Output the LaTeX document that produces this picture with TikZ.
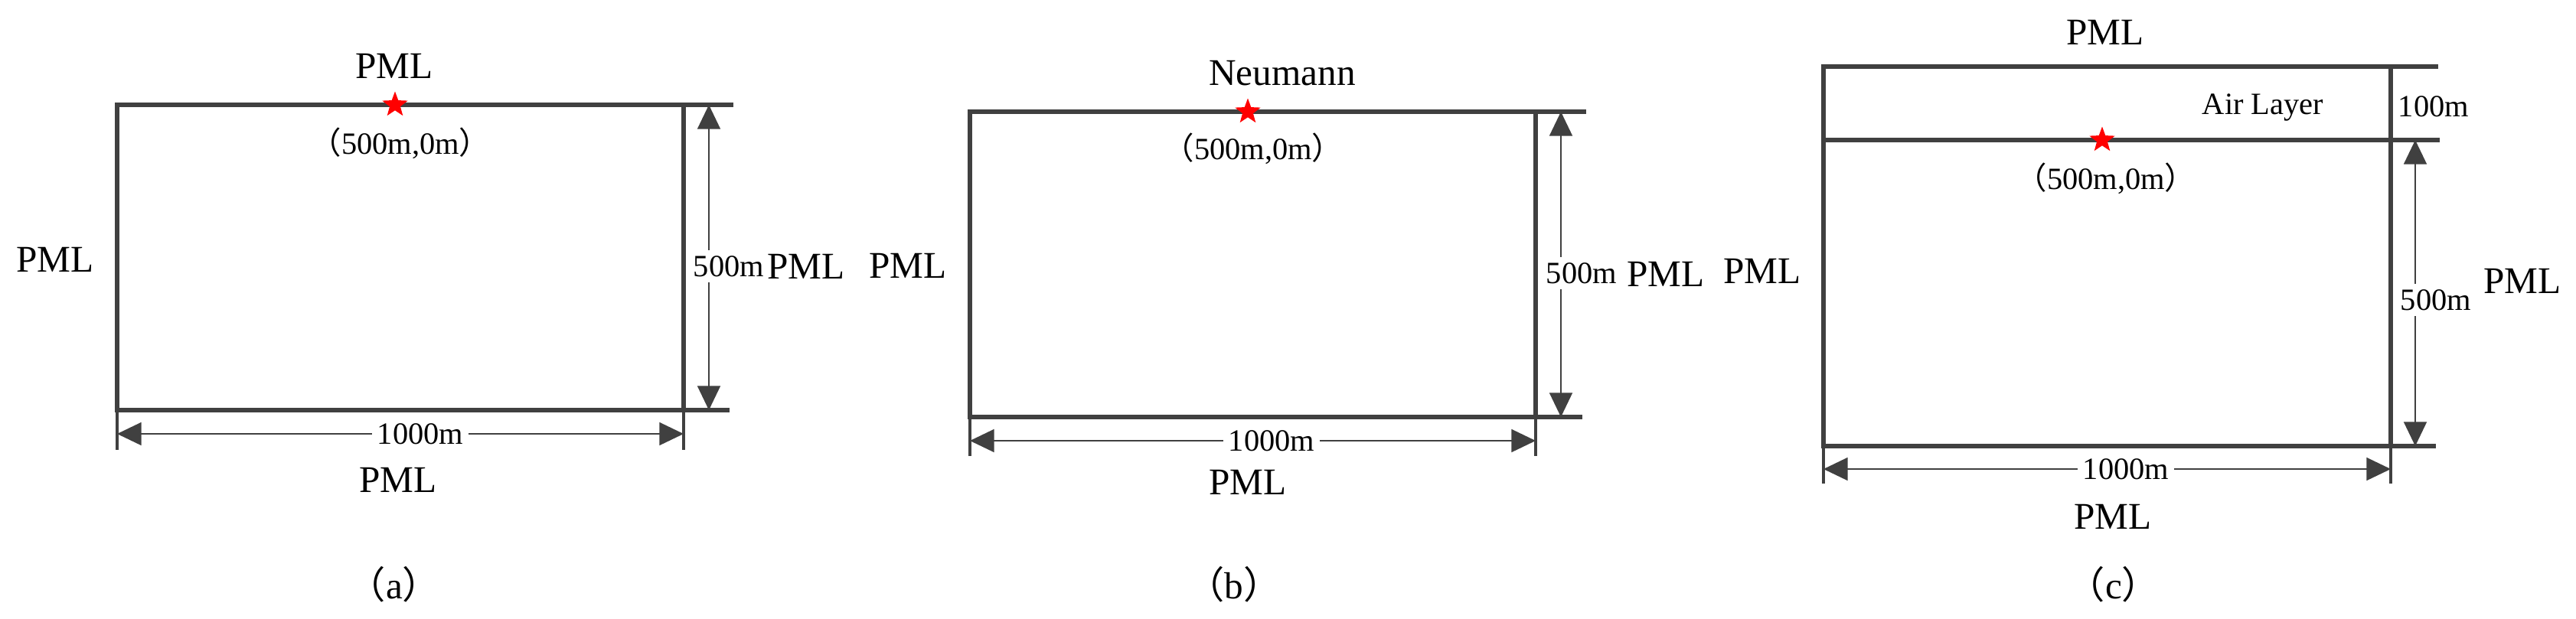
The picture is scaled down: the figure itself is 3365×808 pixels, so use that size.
\documentclass[tikz,border=0pt]{standalone}
\usepackage{fontspec}
\setmainfont{Liberation Serif}
\newfontfamily\cjk{Noto Sans CJK SC}
\usetikzlibrary{arrows.meta,shapes.geometric}
\definecolor{linegray}{HTML}{404040}
\newcommand{\lp}{{\cjk （}}
\newcommand{\rp}{{\cjk ）}}
\begin{document}
\begin{tikzpicture}[x=0.01cm,y=-0.01cm,
  boxline/.style={line width=1.45pt, draw=linegray},
  extline/.style={line width=1.1pt, draw=linegray},
  dimline/.style={line width=0.6pt, draw=linegray,
    {Triangle[length=9pt,width=8.5pt]}-{Triangle[length=9pt,width=8.5pt]}},
  big/.style={font=\fontsize{14}{16}\selectfont, inner sep=0pt},
  small/.style={font=\fontsize{11.5}{13}\selectfont, inner sep=0pt},
  dlabel/.style={small, fill=white, inner sep=2pt},
  src/.style={star, star points=5, star point ratio=2.4, fill=red, draw=none,
    inner sep=0pt, minimum size=0.35cm}]
\useasboundingbox (0,0) rectangle (3365,808);

% ---------------- panel (a) ----------------
\coordinate (aTL) at (153,137);
\coordinate (aTR) at (893,137);
\coordinate (aBL) at (153,536);
\coordinate (aBR) at (893,536);
\coordinate (aTE) at (958,137);
\coordinate (aBE) at (953,536);
\coordinate (aLD) at (153,588);
\coordinate (aRD) at (893,588);
\coordinate (aDL) at (153,567);
\coordinate (aDR) at (893,567);
\coordinate (aVT) at (926,137);
\coordinate (aVB) at (926,536);
\draw[boxline] (aTE) -- (aTL) -- (aBL) -- (aBE);
\draw[boxline] (aTR) -- (aBR);
\draw[extline] (aBL) -- (aLD);
\draw[extline] (aBR) -- (aRD);
\draw[dimline] (aDL) -- (aDR);
\draw[dimline] (aVT) -- (aVB);
\node[dlabel] (a1000) at (549,567) {1000m};
\node[dlabel] (a500) at (952,348) {500m};
\node[big] (aPt) at (515,86) {PML};
\node[big] (aPl) at (72,339) {PML};
\node[big] (aPr) at (1053,348) {PML};
\node[big] (aPb) at (520,627) {PML};
\node[src] (aS) at (516,137) {};
\node[small] (aC) at (523,187) {\lp500m,0m\rp};
\node[big] (aCap) at (515,764) {\lp a\rp};

% ---------------- panel (b) ----------------
\coordinate (bTL) at (1267,146);
\coordinate (bTR) at (2006,146);
\coordinate (bBL) at (1267,545);
\coordinate (bBR) at (2006,545);
\coordinate (bTE) at (2072,146);
\coordinate (bBE) at (2067,545);
\coordinate (bLD) at (1267,596);
\coordinate (bRD) at (2006,596);
\coordinate (bDL) at (1267,576);
\coordinate (bDR) at (2006,576);
\coordinate (bVT) at (2039,146);
\coordinate (bVB) at (2039,545);
\draw[boxline] (bTE) -- (bTL) -- (bBL) -- (bBE);
\draw[boxline] (bTR) -- (bBR);
\draw[extline] (bBL) -- (bLD);
\draw[extline] (bBR) -- (bRD);
\draw[dimline] (bDL) -- (bDR);
\draw[dimline] (bVT) -- (bVB);
\node[dlabel] (b1000) at (1661,576) {1000m};
\node[dlabel] (b500) at (2066,357) {500m};
\node[big] (bPt) at (1675,96) {Neumann};
\node[big] (bPl) at (1186,347) {PML};
\node[big] (bPr) at (2176,358) {PML};
\node[big] (bPb) at (1630,630) {PML};
\node[src] (bS) at (1630,146) {};
\node[small] (bC) at (1637,194) {\lp500m,0m\rp};
\node[big] (bCap) at (1612,764) {\lp b\rp};

% ---------------- panel (c) ----------------
\coordinate (cTL) at (2382,87);
\coordinate (cTR) at (3123,87);
\coordinate (cML) at (2382,183);
\coordinate (cMR) at (3123,183);
\coordinate (cBL) at (2382,583);
\coordinate (cBR) at (3123,583);
\coordinate (cTE) at (3185,87);
\coordinate (cME) at (3187,183);
\coordinate (cBE) at (3182,583);
\coordinate (cLD) at (2382,632);
\coordinate (cRD) at (3123,632);
\coordinate (cDL) at (2382,613);
\coordinate (cDR) at (3123,613);
\coordinate (cVT) at (3155,183);
\coordinate (cVB) at (3155,583);
\draw[boxline] (cTE) -- (cTL) -- (cBL) -- (cBE);
\draw[boxline] (cTR) -- (cBR);
\draw[boxline] (cML) -- (cME);
\draw[extline] (cBL) -- (cLD);
\draw[extline] (cBR) -- (cRD);
\draw[dimline] (cDL) -- (cDR);
\draw[dimline] (cVT) -- (cVB);
\node[dlabel] (c1000) at (2777,613) {1000m};
\node[dlabel] (c500) at (3182,392) {500m};
\node[small] (c100) at (3179,139) {100m};
\node[small] (cAir) at (2956,140) {Air Layer};
\node[big] (cPt) at (2750,42) {PML};
\node[big] (cPl) at (2302,354) {PML};
\node[big] (cPr) at (3295,367) {PML};
\node[big] (cPb) at (2760,675) {PML};
\node[src] (cS) at (2746,183) {};
\node[small] (cC) at (2751,233) {\lp500m,0m\rp};
\node[big] (cCap) at (2761,764) {\lp c\rp};
\end{tikzpicture}
\end{document}
